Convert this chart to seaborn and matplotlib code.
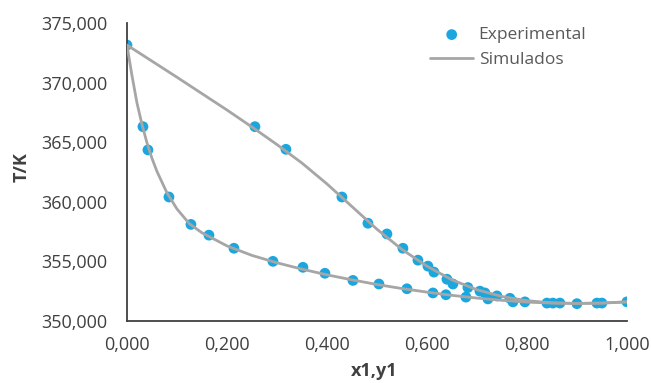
import numpy as np
import pandas as pd
import matplotlib
matplotlib.use("Agg")
import matplotlib.pyplot as plt
from matplotlib.ticker import FuncFormatter
import seaborn as sns

# experimental points, liquid (x1) and vapour (y1) branches
x_liq = [0.000, 0.032, 0.042, 0.084, 0.128, 0.164, 0.214, 0.292, 0.352, 0.396,
         0.452, 0.504, 0.560, 0.612, 0.638, 0.678, 0.722, 0.772, 0.796, 0.840,
         0.852, 0.866, 0.900, 0.940, 0.950, 1.000]
T_liq = [373.15, 366.3, 364.35, 360.4, 358.1, 357.2, 356.1, 355.0, 354.5, 354.0,
         353.4, 353.1, 352.7, 352.35, 352.2, 352.0, 351.85, 351.6, 351.6, 351.5,
         351.5, 351.5, 351.45, 351.5, 351.5, 351.6]
y_vap = [0.256, 0.318, 0.430, 0.482, 0.520, 0.552, 0.582, 0.602, 0.614, 0.640,
         0.652, 0.682, 0.706, 0.716, 0.740, 0.766]
T_vap = [366.3, 364.4, 360.4, 358.2, 357.3, 356.1, 355.1, 354.6, 354.1, 353.5,
         353.1, 352.8, 352.5, 352.35, 352.1, 351.9]

# simulated curves
sim_x_liq = [0.0, 0.01, 0.02, 0.03, 0.04, 0.05, 0.06, 0.08, 0.1, 0.125, 0.15,
             0.2, 0.25, 0.3, 0.35, 0.4, 0.45, 0.5, 0.55, 0.6, 0.65, 0.7, 0.75,
             0.8, 0.85, 0.9, 0.95, 1.0]
sim_T_liq = [373.15, 370.6, 368.3, 366.5, 364.95, 363.65, 362.55, 360.75, 359.4,
             358.15, 357.4, 356.3, 355.5, 354.88, 354.35, 353.87, 353.45, 353.06,
             352.72, 352.42, 352.15, 351.92, 351.73, 351.58, 351.5, 351.47, 351.5,
             351.6]
sim_y_vap = [0.0, 0.1, 0.2, 0.256, 0.3, 0.35, 0.4, 0.45, 0.5, 0.55, 0.6, 0.65,
             0.7, 0.75, 0.8, 0.85, 0.9, 0.95, 1.0]
sim_T_vap = [373.15, 370.45, 367.7, 366.1, 364.8, 363.25, 361.5, 359.6, 357.7, 356.0,
             354.6, 353.45, 352.62, 352.05, 351.7, 351.52, 351.47, 351.5, 351.6]

exp = pd.DataFrame({"x": x_liq + y_vap, "T": T_liq + T_vap})

sns.set_style("white")
plt.rcParams["font.family"] = ["Open Sans", "DejaVu Sans"]

fig = plt.figure(figsize=(6.51, 3.83), dpi=100)
ax = fig.add_axes([0.195, 0.162, 0.768, 0.778])

sns.scatterplot(data=exp, x="x", y="T", color="#1AA7E0", s=60, edgecolor="none",
                label="Experimental", ax=ax, zorder=2)
sns.lineplot(x=sim_x_liq, y=sim_T_liq, color="#A6A6A6", lw=2, label="Simulados",
             ax=ax, zorder=3)
sns.lineplot(x=sim_y_vap, y=sim_T_vap, color="#A6A6A6", lw=2, ax=ax, zorder=3)

ax.set_xlim(0, 1)
ax.set_ylim(350, 375)
ax.set_xticks(np.arange(0, 1.01, 0.2))
ax.set_yticks(np.arange(350, 375.1, 5))
ax.xaxis.set_major_formatter(FuncFormatter(lambda v, p: f"{v:.3f}".replace(".", ",")))
ax.yaxis.set_major_formatter(FuncFormatter(lambda v, p: f"{int(round(v))},000"))

for s in ["top", "right"]:
    ax.spines[s].set_visible(False)
for s in ["left", "bottom"]:
    ax.spines[s].set_color("#404040")
    ax.spines[s].set_linewidth(1.3)

ax.tick_params(axis="y", direction="out", length=4, width=1.2, color="#404040",
               labelsize=13, labelcolor="#404040", pad=10)
ax.tick_params(axis="x", direction="in", length=4, width=1.2, color="#404040",
               labelsize=13, labelcolor="#404040", pad=11)

ax.set_xlabel("x1,y1", fontsize=13, fontweight="bold", color="#404040")
ax.set_ylabel("T/K", fontsize=13, fontweight="bold", color="#404040")
ax.xaxis.set_label_coords(0.494, -0.138)
ax.yaxis.set_label_coords(-0.193, 0.517)

leg = ax.legend(loc="upper left", bbox_to_anchor=(430 / 651, 1 - 27 / 383),
                bbox_transform=fig.transFigure, frameon=False, fontsize=12.5,
                handlelength=2.5, handletextpad=0.3, labelspacing=0.5,
                borderpad=0, borderaxespad=0)
for t in leg.get_texts():
    t.set_color("#595959")

fig.savefig("out.png", dpi=100)
